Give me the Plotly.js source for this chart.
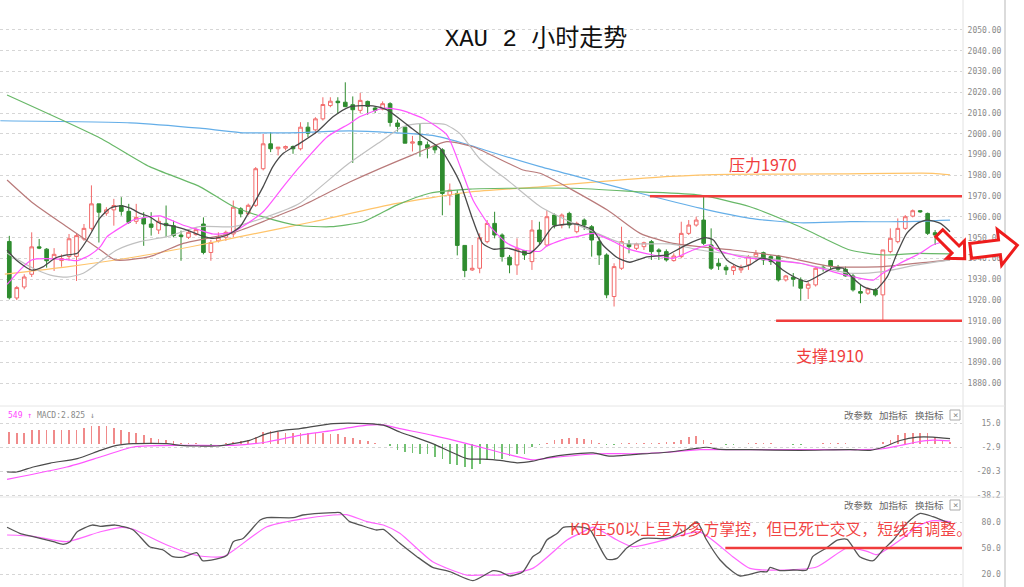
<!DOCTYPE html>
<html><head><meta charset="utf-8">
<script src="https://cdn.plot.ly/plotly-3.0.1.min.js"></script>
<style>html,body{margin:0;padding:0;background:#fff;}#chart{width:1024px;height:587px;}</style>
</head><body><div id="chart"></div>
<script>
// ---------- DATA ----------
const opens = [1948.2,1921,1926.3,1932.4,1945.6,1944.5,1940,1939,1941,1941,
1949.4,1954.5,1966.3,1961.8,1963.4,1965.5,1962.7,1957.9,1959.4,1956.6,
1953.7,1956.9,1955.8,1951.3,1950.2,1951.5,1956.6,1942.9,1948.5,1950.2,
1951.8,1963.9,1961.6,1965.6,1983.2,1995.2,1992.8,1993.1,1993.9,1992.8,
2003.2,2001.9,2007.2,2013.6,2015.7,2015.2,2014,2011.3,2015.6,2012.4,
2011.9,2014.5,2005.2,2003.2,1995.5,1996.3,1994.7,1993.9,1992.3,1970.5,
1971.3,1946.3,1934.5,1935.3,1948.1,1956.9,1951.3,1940.6,1936.9,1943.8,
1938.5,1953.7,1946.5,1960.9,1956.1,1961.7,1952.9,1958.5,1955.3,1948.1,
1941.7,1921.7,1935.3,1947,1944.9,1945.7,1948.1,1944.1,1943.3,1939,
1940.9,1952.1,1956.1,1958.5,1946.5,1937.7,1935.8,1934.2,1934.5,1936.9,
1940.9,1942.8,1940.9,1941.2,1929.7,1931,1929.7,1925.7,1927.3,1935.8,
1939,1935.8,1934.8,1931.6,1924.1,1923.3,1924.9,1922.5,1943.3,1948.1,
1954.5,1960.4,1963,1961.7,1952.4,1950.5,1947.3];
const highs = [1950.9,1926.8,1932.4,1952.6,1949.4,1945,1945,1942,1951.8,1952,
1956.6,1975.2,1966.3,1964.7,1968.7,1969.5,1966.3,1966.3,1962.3,1962.3,
1959.8,1965.5,1958.2,1953.4,1954.2,1955,1959.8,1948.9,1952.6,1953.4,
1967.9,1964.7,1966.4,1984,2000,2000.8,1993.6,1994.4,1994.4,2005.6,
2005.6,2008,2017.6,2017.6,2017.6,2024.8,2018,2019.7,2016,2013.2,
2015.6,2015.2,2006.8,2003.5,1999,2005.2,1996.3,1994.7,1993.1,1976.1,
1972.9,1946.3,1946.5,1952.1,1958.5,1962.5,1952.1,1941.7,1949.7,1944,
1958.5,1957.7,1963.3,1961.7,1961.7,1962.5,1957.7,1959.3,1956.1,1950.5,
1942.5,1937.7,1955.3,1948.9,1947.6,1948.1,1948.9,1944.9,1944.4,1942.5,
1957.7,1958.5,1960.1,1969.7,1954.5,1940.1,1936.9,1936.9,1937,1941.7,
1944.1,1943.3,1941.7,1941.7,1932.1,1933,1930.9,1928.9,1936.1,1936.9,
1939.3,1936.9,1936.1,1932.9,1927.3,1926.1,1925.7,1944.1,1954.5,1959.3,
1960.9,1963.6,1963.2,1962.1,1953.7,1951.3,1950.5];
const lows = [1920.3,1920,1925.2,1931.1,1944.5,1935.6,1934,1936,1939,1929.2,
1948.5,1953.4,1947.7,1960.6,1955.8,1960.6,1956.6,1956.6,1946.1,1951,
1951.8,1950.2,1950.2,1938.9,1949.4,1951,1942,1938.9,1947.7,1948.5,
1950.2,1959.8,1960.8,1964.8,1982.4,1991.2,1989.6,1992,1990.4,1992,
1998.4,2000,2006.4,2012.8,2009.6,2012.8,1986,2010,2009.2,2010,
2011.3,2003.5,2001.1,1995.5,1991.5,1989,1988.2,1990.6,1960.8,1965.6,
1941.5,1931,1934,1932.9,1947.3,1949.7,1938.5,1932.9,1932.1,1939.3,
1934.5,1946.5,1945.7,1954.5,1954.5,1954.5,1952.1,1953.7,1940.9,1936.9,
1920.9,1916.9,1934.5,1942.5,1944.1,1944.1,1939.3,1939.3,1938.5,1938.5,
1940.1,1951.3,1955.3,1946.5,1934.5,1934.5,1932.1,1932.1,1933,1934.5,
1939.3,1936.9,1936.9,1928.9,1928.9,1926.5,1919.7,1920.5,1926.5,1933.7,
1934.8,1933.7,1931.3,1924.1,1918.5,1922.5,1921.7,1909.7,1942.5,1947.3,
1953.7,1959.8,1962,1951.3,1946.5,1947,1944.9];
const closes = [1921.1,1926,1931.1,1945.6,1945,1938.9,1942,1940,1949.5,1951,
1954.5,1966.3,1962.3,1963.4,1965.5,1962.7,1957.4,1959.8,1956.6,1955,
1957.9,1955.8,1951,1950.6,1952.6,1953.9,1942.9,1947.7,1950.2,1952.6,
1964.7,1961.5,1965.6,1983.2,1995.2,1992.8,1993.6,1993.9,1992.8,2003.2,
2000.3,2007.2,2014.1,2015.7,2015,2013.1,2011.6,2016.1,2013.2,2011.3,
2014.5,2005.5,2003.5,1995.5,1996.1,1994.7,1993.1,1992.3,1971.3,1972.9,
1946.3,1934.2,1935.3,1950,1956.9,1951.3,1940.9,1936.9,1944.9,1941.7,
1953.7,1948.1,1960.1,1956.1,1960.9,1956.1,1956.9,1956.1,1948.9,1941.7,
1922.5,1936.1,1948.1,1945.7,1947,1947.6,1943.3,1943.3,1939.3,1941.2,
1952.1,1956.1,1958.5,1947.3,1935.3,1936.4,1934.5,1936.1,1935.5,1940.9,
1942.5,1939.3,1938.5,1929.7,1931.6,1930,1925.7,1927.6,1935.3,1935.2,
1936.4,1934.8,1931.6,1924.9,1923.3,1925.4,1922.5,1944.1,1949.7,1954.5,
1960.1,1963,1962.5,1952.1,1951.3,1948.9,1949.7];

// moving averages (sampled along the bar index)
const ma5Idx = [-0.3,1.0,3.0,4.5,6.1,7.7,9.1,10.4,12.1,13.5,14.8,16.2,17.5,18.8,20.2,21.9,23.8,25.5,27.3,29.2,30.9,32,34,35.3,36.7,38.9,41.2,43.4,45.6,48.7,50.6,53.3,55.4,57.7,59,60.4,62.1,63.4,64.8,66.7,68.4,69.7,71.1,72.8,74.7,76,78.2,79.5,81.4,83.1,85.4,88.1,89.8,91.6,93.2,94.3,96.1,97.9,99.2,100.6,101.9,103.6,105.5,106.8,108.6,110.3,111.7,113,114.4,116,117.6,118.9,120.2,121.6,122.9,124.7,126];
const ma5Val = [1944.1,1939,1934.4,1936,1940.1,1941.7,1942.5,1948.9,1959.3,1964.2,1965.3,1964.2,1961.7,1960.1,1956.9,1955.6,1953.7,1951.3,1949.7,1951.3,1955.3,1961.7,1974.6,1984.2,1990.6,1995.4,2001,2008.3,2013,2013.5,2011.5,2004.3,1998.6,1993,1985.8,1976.2,1958.5,1947.3,1944.5,1945,1943.3,1942.5,1947,1955.3,1956.5,1956.5,1953.5,1946.5,1940.5,1938.2,1940.8,1941.7,1944.9,1948.1,1950,1948.9,1939.3,1935.8,1936.9,1940.1,1939.3,1934.5,1930.5,1928.9,1932.1,1935.3,1935.3,1930.5,1926.5,1924.9,1931.3,1942.5,1952.1,1956.9,1958.5,1956.9,1952.9];
const ma10Idx = [-0.3,3,7.7,9.1,10.8,12.2,13.1,15.8,16.6,18.8,20.2,23.3,25.5,27.3,30,34,36.7,38.9,42.6,45.6,47,50.1,52.3,55.4,58.6,60.4,62.1,64.4,66.7,68.8,71.1,72,74.7,76,78.2,80.5,82.7,86.2,88.9,91.6,93.8,94.8,97.9,101.5,105.9,109.5,113,115.7,117,119.3,122,123.7,126];
const ma10Val = [1927.5,1939.3,1939.5,1939,1941.7,1945.7,1950.5,1956.9,1958.5,1960.1,1960.5,1956,1953.7,1951.8,1952.9,1962.5,1974.6,1984.2,1998.6,2005,2008.3,2012.3,2011.5,2007.5,1999.5,1984.2,1968.2,1955.3,1947.3,1944.1,1943.5,1946,1949.7,1950.5,1952.1,1948.9,1944.9,1941.7,1940.1,1944.1,1946.5,1944.1,1940.9,1939.3,1937.7,1934.4,1931.2,1929.6,1932.9,1937.7,1942.5,1946.5,1948.9];
const ma20Idx = [-0.3,3.2,5.5,7.7,9.9,14.4,17.5,21.1,25.5,30,34.5,38.9,45.2,49.7,52.7,55.4,58.4,60.4,63,66.7,71.1,75.5,78.2,82.2,88.5,92.5,99.2,105.9,112.6,117,121.6,126];
const ma20Val = [1942.5,1935.3,1932,1931,1932.9,1944.1,1948.1,1950.5,1955.3,1955.3,1960.1,1966.6,1985,1996.2,2003.4,2005,2004.5,2000,1988,1977.8,1965,1957,1953,1947.3,1947,1944.1,1940.9,1937.7,1932.9,1933.7,1936.9,1939.3];
const ma30Idx = [-0.3,3.2,7.7,12.2,14.2,18.8,23.3,26.5,30,34.5,38.9,45.6,54.1,58.6,62.1,68.8,71.1,80.1,84.5,88.9,96.9,103.6,110.3,117,123.7,126];
const ma30Val = [1977.8,1966.6,1955.3,1944.1,1939.3,1940.9,1947.3,1949.7,1952.4,1958.5,1964.9,1976.8,1990,1996.2,1993.8,1982.6,1981,1963.3,1952.1,1947.3,1944.1,1940.9,1936.1,1936.1,1938.5,1939.3];
const ma60Idx = [-0.3,12.2,18.8,25.5,30,34,38.5,43,47.4,51.9,56.3,61.7,66.7,75.5,84.5,92.5,99.2,105.9,112.6,117,121.6,126];
const ma60Val = [2018.7,1997.9,1984.2,1974.6,1965,1960,1956,1955.3,1957.7,1965.7,1971.4,1973.4,1973.8,1973.8,1972.1,1970.5,1964.9,1955.3,1944.1,1941.7,1942.5,1942.2];
const ma120Idx = [-1.2,16.2,25.5,30.9,38.9,45.6,57,61.7,64.4,71.1,77.8,84.5,92.5,99.2,105.9,112.6,119.3,126];
const ma120Val = [2006.3,2005.3,2002.7,2000.6,2000.6,2001.4,1999,1994.5,1991.4,1984.2,1977.8,1971.4,1964.2,1959.3,1957.2,1957.7,1957.7,1958.5];
const ma250Idx = [-0.6,7.7,16.6,25.5,30.9,40.7,51.9,61.7,71.1,79.1,88.5,96.5,110.3,123.7,126];
const ma250Val = [1932.5,1936,1940.6,1946.5,1950.5,1957.7,1966.5,1972,1974.5,1977,1979.5,1980.5,1980.7,1981,1980.3];

// MACD
const macdHist = [8.7,7.5,8,10.4,10.4,10,10,10,10.4,10.4,
11.9,12.9,12.9,12.9,11.9,10.4,8.7,7.5,6.2,4.5,
3.7,3,2,0.5,0.5,0.2,-0.5,-0.7,-0.5,0.3,
1.2,2,2.5,5,8.7,9.5,8.7,8,7.5,7.5,
7.5,7.5,7.5,7,7,5,4.5,2.5,2,0.3,
-0.3,-2,-4.5,-6.2,-7,-7.5,-7.5,-10,-11.2,-14.9,
-16.2,-17.4,-18.7,-14.9,-12.4,-11.2,-11.2,-9.5,-7.5,-7.5,
-2.5,-1.2,0.5,2.5,3.7,4.5,4.5,3.7,2.5,0.5,
-0.7,-0.7,0.2,0.7,0.7,0.7,0.7,0.7,1,1.5,
3,5,5.5,3,0.3,-0.5,-0.7,-0.7,-0.3,0.2,
0.3,0.3,0.2,-0.3,-0.5,-0.7,-0.7,-0.3,-0.2,0.2,
0.5,0.5,0.3,-0.3,-0.5,-0.5,-0.2,1.2,3,6.2,
7.5,8.2,8.2,7.5,5,3,1.2];
const difIdx = [-0.3,1.0,3.2,5.5,9.1,12.2,14.4,16.6,21.1,22.9,25.5,27.8,30,32.2,34.5,36.7,38.9,43.4,47.9,50.1,52.3,56.7,61.3,63.4,65.7,68,70.1,72.4,74.7,78.2,80.5,83.5,88.1,91.6,93.4,95.2,99.2,105.9,112.6,115.3,117,119.3,121.6,123.7,126];
const difVal = [-21,-21,-17.3,-14.4,-11.1,-5,-1.3,0,0,-1.3,-1.8,-1.8,0,2.4,7.4,9.8,11.1,14.8,14.8,13.6,8.6,0,-11.1,-11.5,-12.4,-14.2,-13,-10,-8.1,-6.9,-9.3,-8.1,-6.4,-3.9,-2.7,-4.3,-4.5,-5,-4.5,-5,-2.7,2.3,4.8,4.8,3.6];
const deaIdx = [-0.3,7.7,12.2,16.6,23.3,30,34.5,38.9,43.4,47.9,50.1,52.3,56.7,61.3,67.3,70.1,72.4,79.1,83.5,88.1,92.5,99.2,105.9,112.6,117,119.3,121.6,123.7,126];
const deaVal = [-26.4,-17.3,-9.9,-2.5,-1.3,-1.3,1.2,6.1,9.8,13.6,13.8,11.1,6.1,0,-8.7,-12,-10.5,-7.5,-7.5,-6.4,-4.5,-4.5,-4.5,-4.5,-3.8,-1.4,1.2,2.5,2];

// KD
const kIdx = [-0.3,1.4,3.2,5.9,7.2,8.1,9.1,11.1,12.2,14.2,16.6,18.8,20.6,21.9,23.3,25.1,25.9,28.2,29.2,30,31.3,33.6,34.5,38,39.3,43.4,44.3,45.6,47,49.2,50.1,52.3,54.6,56.7,59,62.1,64.8,65.7,67.1,68.8,70.1,71.1,72,73.4,74.2,76.8,77.8,80.1,81.4,82.7,84.9,88.1,89.8,90.8,92.1,93.4,95.2,96.9,97.9,100.6,101.5,101.9,103.2,105,106.8,107.6,109.5,110.9,112.2,113.9,115.7,117,118.4,120.2,122,123.7,126];
const kVal = [73.9,67,63,57.3,54.3,57,68.8,76.5,75,76.5,70.8,51.5,47.7,40,39.5,44.6,35.3,38.2,41.9,57.3,61,82.3,85,85,88.1,90.8,90.8,80.4,76.5,70.8,71.5,55.4,40,27.7,22.7,12.3,23.9,22.7,17.7,22.7,40,45.7,59.2,66.9,73.9,73.9,70.8,37,38,50,61.1,61.1,66.9,72,80,59.2,36.2,22.7,17.7,22.7,22.7,27.7,23.9,24.6,24.6,40,50.4,59.2,60,40,35.3,47.7,59.2,78.5,90,86.2,78.5];
const dIdx = [-0.3,3.2,7.7,12.2,15.2,16.6,21.1,25.5,28.6,30,34.5,38.9,43.4,45.2,47.9,50.1,52.3,56.7,61.3,63.4,65.7,70.1,74.7,76.8,78.2,81.4,83.5,88.1,92.5,96.9,99.2,103.6,108.2,112.2,114.9,116.2,119.3,122,123.7,126];
const dVal = [65,63.5,57.3,68.8,73.9,71.6,53.5,40.8,40,47,74.6,83.1,88.1,88.5,80.4,76.5,67,34.2,18.8,18.8,18.8,26.5,59.2,68.4,74.2,59.2,51.6,60,68.4,40,26.5,24.6,28.4,50,46.1,42.3,59.2,76.5,81.5,80.4];

// tick labels / levels
const priceTicks = [1880,1890,1900,1910,1920,1930,1940,1950,1960,1970,1980,1990,2000,2010,2020,2030,2040,2050];
const macdTicks = [15.0,-2.9,-20.3,-38.2];
const kdTicks = [80,50,20];
const resistanceLevel = 1970, supportLevel = 1910, kdLevel = 50;
const titleText = 'XAU 2 小时走势';
const resistanceText = '压力1970', supportText = '支撑1910';
const kdComment = 'KD在50以上呈为多方掌控，但已死亡交叉，短线有调整。';
const toolWords = ['改参数','加指标','换指标'];

// ---------- CHART ----------
const W = 1024, H = 587;
const PX = p => p / W, PY = p => 1 - p / H;
const idx = opens.map((_, i) => i);
const mono = "'DejaVu Sans Mono', monospace";
const cjk = "'Noto Sans CJK SC', sans-serif";
const pad = (s, n) => '\u00a0'.repeat(Math.max(0, n - s.length)) + s;

function line(xs, ys, color, yaxis, width) {
  return {type:'scatter', mode:'lines', x:xs, y:ys, xaxis:'x', yaxis:yaxis,
    line:{color:color, width:width||1.2, shape:'spline', smoothing:0.6}, hoverinfo:'skip'};
}

const traces = [
  {type:'candlestick', x:idx, open:opens, high:highs, low:lows, close:closes, xaxis:'x', yaxis:'y',
   increasing:{line:{color:'#f26a6a', width:1}, fillcolor:'#ffffff'},
   decreasing:{line:{color:'#2f8c2f', width:1}, fillcolor:'#2f8c2f'},
   whiskerwidth:0, hoverinfo:'skip'},
  line(ma250Idx, ma250Val, '#ffc46a', 'y'),
  line(ma120Idx, ma120Val, '#64aee8', 'y'),
  line(ma60Idx, ma60Val, '#68b868', 'y'),
  line(ma30Idx, ma30Val, '#b97a7a', 'y'),
  line(ma20Idx, ma20Val, '#c0c0c0', 'y'),
  line(ma10Idx, ma10Val, '#ff55ff', 'y'),
  line(ma5Idx, ma5Val, '#4a4a4a', 'y', 1.3),
  {type:'bar', x:idx, y:macdHist, xaxis:'x', yaxis:'y2', width:0.22,
   marker:{color:macdHist.map(v => v >= 0 ? '#f08a8a' : '#72c072'), line:{width:0}}, hoverinfo:'skip'},
  line(deaIdx, deaVal, '#ff55ff', 'y2'),
  line(difIdx, difVal, '#4a4a4a', 'y2'),
  line(dIdx, dVal, '#ff66ff', 'y3'),
  line(kIdx, kVal, '#555555', 'y3', 1.3)
];

function arrowPath(cx, cy, L, w, hw, hl, ang) {
  const a = ang * Math.PI / 180, c = Math.cos(a), s = Math.sin(a);
  const pts = [[-L/2,-w/2],[L/2-hl,-w/2],[L/2-hl,-hw/2],[L/2,0],[L/2-hl,hw/2],[L/2-hl,w/2],[-L/2,w/2]];
  return pts.map((p, i) => {
    const x = cx + p[0]*c - p[1]*s, y = cy + p[0]*s + p[1]*c;
    return (i ? 'L' : 'M') + PX(x).toFixed(5) + ',' + PY(y).toFixed(5);
  }).join(' ') + ' Z';
}

const red = '#f03c3c';
const shapes = [
  {type:'line', xref:'paper', yref:'paper', x0:PX(963), x1:PX(963), y0:0, y1:1, line:{color:'#e2e2e2', width:1}},
  {type:'line', xref:'paper', yref:'paper', x0:PX(1005), x1:PX(1005), y0:0, y1:1, line:{color:'#cfcfcf', width:1.5}},
  {type:'line', xref:'paper', yref:'paper', x0:0, x1:PX(1005), y0:PY(406), y1:PY(406), line:{color:'#e6e6e6', width:1}},
  {type:'line', xref:'paper', yref:'paper', x0:0, x1:PX(1005), y0:PY(497), y1:PY(497), line:{color:'#e6e6e6', width:1}},
  {type:'line', xref:'x', yref:'y', x0:85.8, x1:127.6, y0:resistanceLevel, y1:resistanceLevel, line:{color:red, width:2.5}},
  {type:'line', xref:'x', yref:'y', x0:102.7, x1:127.6, y0:supportLevel, y1:supportLevel, line:{color:red, width:2.5}},
  {type:'line', xref:'x', yref:'y3', x0:95.9, x1:127.6, y0:kdLevel, y1:kdLevel, line:{color:red, width:2.5}},
  {type:'path', xref:'paper', yref:'paper', path:arrowPath(952, 246, 36, 10, 25, 13, 45), line:{color:'#ee1c1c', width:3}, fillcolor:'#ffffff'},
  {type:'path', xref:'paper', yref:'paper', path:arrowPath(994, 248, 47, 15, 36, 18, -7), line:{color:'#ee1c1c', width:3}, fillcolor:'#ffffff'},
  {type:'rect', xref:'paper', yref:'paper', x0:PX(950), x1:PX(960), y0:PY(420), y1:PY(410), line:{color:'#aaaaaa', width:1}},
  {type:'rect', xref:'paper', yref:'paper', x0:PX(950), x1:PX(960), y0:PY(510), y1:PY(500), line:{color:'#aaaaaa', width:1}}
];

const annotations = [
  {xref:'paper', yref:'paper', x:PX(763), y:PY(164), text:resistanceText, showarrow:false, xanchor:'center', yanchor:'middle', font:{family:cjk, size:16, color:red}},
  {xref:'paper', yref:'paper', x:PX(830), y:PY(355), text:supportText, showarrow:false, xanchor:'center', yanchor:'middle', font:{family:cjk, size:16, color:red}},
  {xref:'paper', yref:'paper', x:PX(568), y:PY(528), text:kdComment, showarrow:false, xanchor:'left', yanchor:'middle', font:{family:cjk, size:15.8, color:'rgba(240,50,50,0.92)'}},
  {xref:'paper', yref:'paper', x:PX(6), y:PY(415), text:'<span style="color:#ff44ff">549 ↑</span> <span style="color:#888888">MACD:2.825 ↓</span>', showarrow:false, xanchor:'left', yanchor:'middle', font:{family:mono, size:8}},
  {xref:'paper', yref:'paper', x:PX(955), y:PY(415), text:'×', showarrow:false, xanchor:'center', yanchor:'middle', font:{family:mono, size:9, color:'#888'}},
  {xref:'paper', yref:'paper', x:PX(955), y:PY(505), text:'×', showarrow:false, xanchor:'center', yanchor:'middle', font:{family:mono, size:9, color:'#888'}}
];
[842, 877, 913].forEach((x, k) => {
  [415, 505].forEach(y => annotations.push({xref:'paper', yref:'paper', x:PX(x), y:PY(y), text:toolWords[k], showarrow:false, xanchor:'left', yanchor:'middle', font:{family:cjk, size:9.5, color:'#666'}}));
});

const axisBase = {side:'right', anchor:'x', showgrid:true, gridcolor:'#d6d6d6', griddash:'dot', gridwidth:1,
  zeroline:false, showline:false, ticks:'outside', tickcolor:'rgba(0,0,0,0)', fixedrange:true,
  tickfont:{family:mono, size:8, color:'#8a8a8a'}};

const layout = {
  width:W, height:H, margin:{l:0, r:0, t:0, b:0, pad:0}, paper_bgcolor:'#ffffff', plot_bgcolor:'#ffffff',
  showlegend:false, hovermode:false, bargap:0,
  title:{text:titleText, x:PX(536), y:PY(38), xanchor:'center', yanchor:'middle', xref:'paper', yref:'paper',
         font:{family:"'Liberation Mono','Noto Sans CJK SC',monospace", size:24, color:'#111'}},
  xaxis:{domain:[0, PX(962)], range:[-1.246, 127.6], showgrid:false, zeroline:false, showticklabels:false,
         ticks:'', showline:false, rangeslider:{visible:false}, fixedrange:true, anchor:'y'},
  yaxis:Object.assign({}, axisBase, {domain:[PY(400), PY(5)], range:[1871.9, 2062.0], ticklen:3,
         tickvals:priceTicks, ticktext:priceTicks.map(v => v.toFixed(2))}),
  yaxis2:Object.assign({}, axisBase, {domain:[PY(497), PY(407)], range:[-39.5, 27.06], ticklen:12,
         tickvals:macdTicks, ticktext:macdTicks.map(v => pad(v.toFixed(1), 5))}),
  yaxis3:Object.assign({}, axisBase, {domain:[0, PY(498)], range:[5, 107.7], ticklen:17,
         tickvals:kdTicks, ticktext:kdTicks.map(v => v.toFixed(1))}),
  shapes:shapes, annotations:annotations
};

Plotly.newPlot('chart', traces, layout, {staticPlot:true, displayModeBar:false});
</script></body></html>
